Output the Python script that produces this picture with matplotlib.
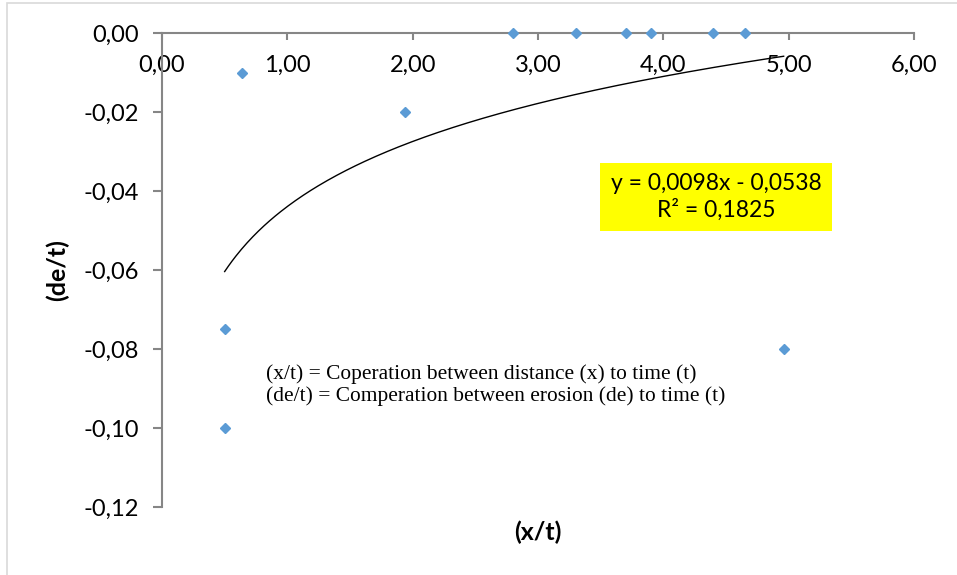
#!/usr/bin/python3

import numpy as np
import matplotlib
matplotlib.use("Agg")
import matplotlib.pyplot as plt
from matplotlib.patches import Rectangle

#data
xt = [0.50, 0.50, 0.64, 1.94, 2.80, 3.30, 3.70, 3.90, 4.40, 4.65, 4.96]
det = [-0.075, -0.100, -0.010, -0.020, 0.0, 0.0, 0.0, 0.0, 0.0, 0.0, -0.080]

xticks = [0, 1, 2, 3, 4, 5, 6]
yticks = [0.0, -0.02, -0.04, -0.06, -0.08, -0.10, -0.12]

eq_text = "y = 0,0098x - 0,0538\nR² = 0,1825"
note_text = ("(x/t) = Coperation between distance (x) to time (t)\n"
             "(de/t) = Comperation between erosion (de) to time (t)")

#_____________________________________________________________________________
def main():

    W, H = 957., 575.

    fig = plt.figure()
    fig.set_size_inches(W/100, H/100)
    fig.set_dpi(100)

    #plot area in pixels
    x0, x1 = 162., 914.
    y0, y1 = 33., 507.
    ax = fig.add_axes([x0/W, 1-y1/H, (x1-x0)/W, (y1-y0)/H])

    axcol = "#868686"
    font = "Lato"

    #points
    ax.plot(xt, det, "D", color="#5B9BD5", ms=5.5, mec="#5B9BD5", zorder=3, clip_on=False)

    #logarithmic trend line fitted to the points
    lx = np.log(np.array(xt))
    a, b = np.polyfit(lx, np.array(det), 1)
    xf = np.linspace(min(xt), max(xt), 300)
    ax.plot(xf, a*np.log(xf)+b, "-", color="black", lw=1, zorder=2)

    ax.set_xlim(0, 6)
    ax.set_ylim(-0.12, 0)

    for s in ["top", "right"]:
        ax.spines[s].set_visible(False)
    ax.spines["bottom"].set_position(("data", 0))
    ax.spines["bottom"].set_color(axcol)
    ax.spines["left"].set_color(axcol)
    ax.spines["bottom"].set_linewidth(1.5)
    ax.spines["left"].set_linewidth(1.5)
    ax.spines["bottom"].set_zorder(1)

    ax.set_xticks(xticks)
    ax.set_xticklabels(["{:.2f}".format(v).replace(".", ",") for v in xticks])
    ax.set_yticks(yticks)
    ax.set_yticklabels(["{:.2f}".format(v).replace(".", ",") for v in yticks])

    ax.tick_params(axis="x", direction="out", length=5, width=1.5, color=axcol, pad=11, labelsize=17)
    ax.tick_params(axis="y", direction="out", length=6.5, width=1.5, color=axcol, pad=10, labelsize=17)
    for t in ax.get_xticklabels() + ax.get_yticklabels():
        t.set_fontfamily(font)

    #axis titles
    fig.text(57/W, 1-270/H, "(de/t)", rotation=90, ha="center", va="center",
             fontsize=18, fontweight="bold", family=font)
    fig.text(538/W, 1-532/H, "(x/t)", ha="center", va="center",
             fontsize=18, fontweight="bold", family=font)

    #trend line label
    fig.text(716/W, 1-197/H, eq_text, ha="center", va="center", fontsize=16.5,
             family=font, linespacing=1.25,
             bbox=dict(boxstyle="square,pad=0.45", fc="#FFFF00", ec="none"))

    #note
    fig.text(266/W, 1-385/H, note_text, ha="left", va="center", fontsize=15.4,
             family="Liberation Serif", linespacing=1.15)

    #chart border
    fig.patches.append(Rectangle((7/W, -0.1), 1.2, 1-3/H+0.1, transform=fig.transFigure,
                                 fill=False, ec="#D9D9D9", lw=1.2))

    fig.savefig("out.png", dpi=100)
    plt.close()

#main

#_____________________________________________________________________________
if __name__ == "__main__":

    main()
